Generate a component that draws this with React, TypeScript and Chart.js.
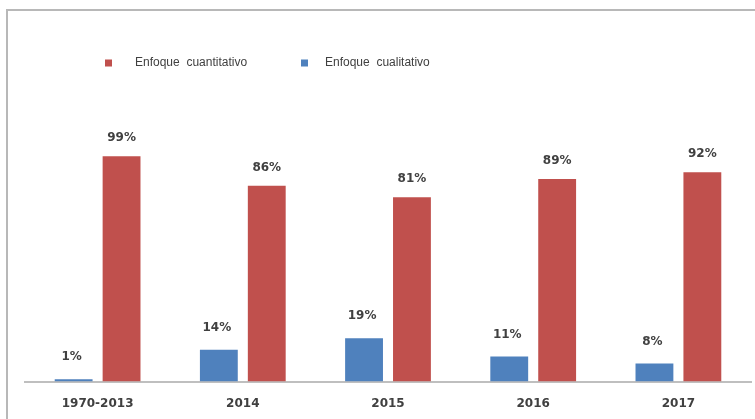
import React, { useEffect, useRef } from "react";
import { Chart, registerables } from "chart.js";

Chart.register(...registerables);

const categories = ["1970-2013", "2014", "2015", "2016", "2017"];
const cualitativo = [1, 14, 19, 11, 8];
const cuantitativo = [99, 86, 81, 89, 92];
const seriesNames = { cuantitativo: "Enfoque  cuantitativo", cualitativo: "Enfoque  cualitativo" };

const RED = "#C0504D";
const BLUE = "#4F81BD";
const TEXT = "#404040";

const valueLabels = {
  id: "valueLabels",
  afterDatasetsDraw(chart: any) {
    const ctx = chart.ctx;
    ctx.save();
    ctx.font = "bold 12px 'DejaVu Sans'";
    ctx.fillStyle = TEXT;
    ctx.textAlign = "center";
    ctx.textBaseline = "middle";
    chart.data.datasets.forEach((ds: any, di: number) => {
      const meta = chart.getDatasetMeta(di);
      meta.data.forEach((bar: any, i: number) => {
        const v = ds.data[i];
        const off = di === 0 ? 22 : 18;
        ctx.fillText(v + "%", bar.x - (di === 0 ? 2 : 0), bar.y - off);
      });
    });
    ctx.restore();
  },
};

const customLegend = {
  id: "customLegend",
  afterDraw(chart: any) {
    const ctx = chart.ctx;
    ctx.save();
    ctx.font = "12px 'Liberation Sans'";
    ctx.fillStyle = TEXT;
    ctx.textBaseline = "middle";
    const items = [
      { ds: chart.data.datasets[1], sq: 105, tx: 135 },
      { ds: chart.data.datasets[0], sq: 301, tx: 325 },
    ];
    const y = 63;
    items.forEach((it) => {
      ctx.fillStyle = it.ds.backgroundColor;
      ctx.fillRect(it.sq, y - 3.5, 7, 7);
      ctx.fillStyle = TEXT;
      ctx.fillText(it.ds.label, it.tx, y);
    });
    ctx.restore();
  },
};

export default function App() {
  const ref = useRef<HTMLCanvasElement | null>(null);
  useEffect(() => {
    if (!ref.current) return;
    const chart = new Chart(ref.current, {
      type: "bar",
      data: {
        labels: categories,
        datasets: [
          { label: seriesNames.cualitativo, data: cualitativo, backgroundColor: BLUE },
          { label: seriesNames.cuantitativo, data: cuantitativo, backgroundColor: RED },
        ],
      },
      options: {
        animation: false,
        responsive: false,
        layout: { padding: { left: 25, right: 4, top: 154, bottom: 10 } },
        datasets: { bar: { categoryPercentage: 0.66, barPercentage: 0.79 } },
        plugins: { legend: { display: false }, tooltip: { enabled: false } },
        scales: {
          x: {
            grid: { display: false, drawTicks: false },
            border: { display: true, color: "#bfbfbf", width: 2 },
            ticks: { color: TEXT, font: { family: "'DejaVu Sans'", size: 12, weight: "bold" }, padding: 15 },
          },
          y: { display: false, min: 0, max: 100 },
        },
      },
      plugins: [valueLabels, customLegend],
    });
    return () => chart.destroy();
  }, []);
  return (
    <div style={{ position: "absolute", left: 0, top: 0, width: 755, height: 419, background: "#fff", overflow: "hidden" }}>
      <div
        style={{
          position: "absolute",
          left: 6,
          top: 9,
          width: 760,
          height: 420,
          borderTop: "2px solid #b8b8b8",
          borderLeft: "2px solid #b8b8b8",
        }}
      />
      <canvas ref={ref} width={755} height={436} style={{ position: "absolute", left: 0, top: 0 }} />
    </div>
  );
}
